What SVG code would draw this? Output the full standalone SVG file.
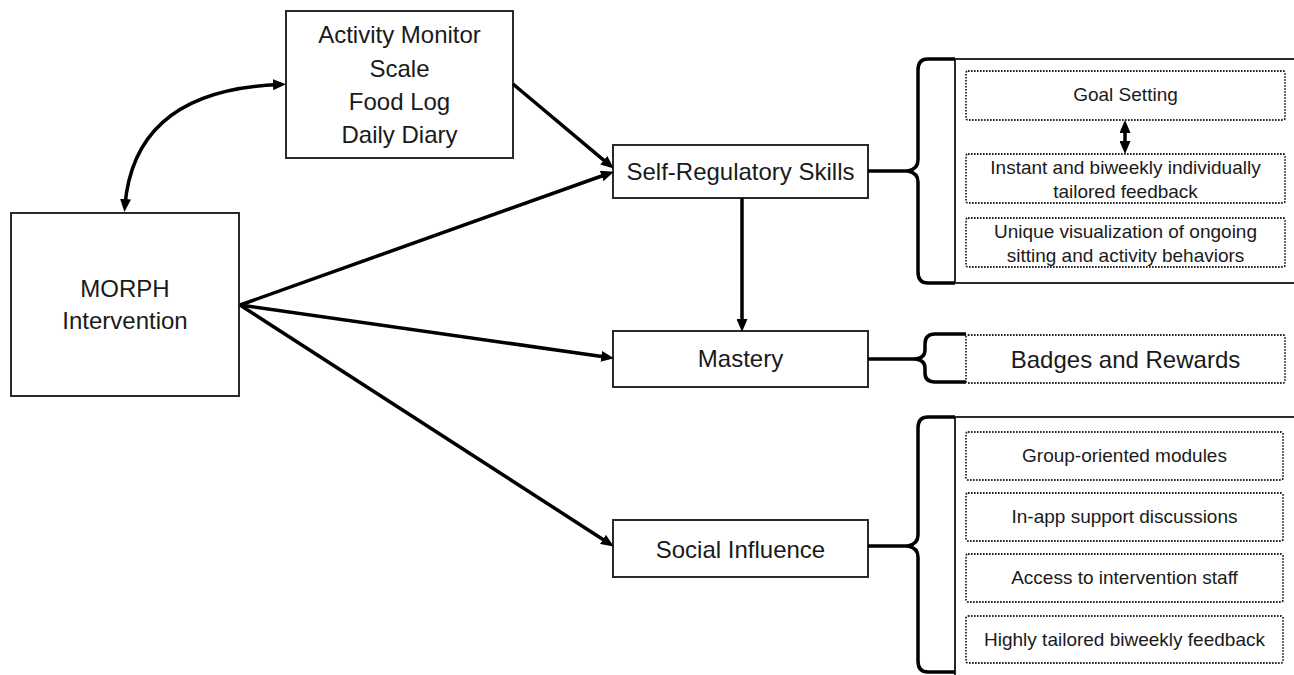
<svg xmlns="http://www.w3.org/2000/svg" width="1294" height="675" viewBox="0 0 1294 675">
<style>
.box{fill:#fff;stroke:#2a2a2a;stroke-width:2}
.panel{fill:#fff;stroke:#2a2a2a;stroke-width:2}
.dot{fill:none;stroke:#222;stroke-width:1.8;stroke-dasharray:1.6 1.4}
.t{font-family:"Liberation Sans",Arial,sans-serif;fill:#1a1a1a;text-anchor:middle}
.big{font-size:24px}
.sm{font-size:19px}
.conn{fill:none;stroke:#000;stroke-width:3.5}
.brace{fill:none;stroke:#000;stroke-width:3.5;stroke-linejoin:round}
</style>
<defs>
<marker id="ah" viewBox="0 0 13 11" refX="6" refY="5.5" markerWidth="13" markerHeight="11" markerUnits="userSpaceOnUse" orient="auto-start-reverse">
<path d="M0,0 L13,5.5 L0,11 z" fill="#000"/>
</marker>
</defs>
<rect width="1294" height="675" fill="#fff"/>
<g id="activity">
<rect class="box" x="286" y="11" width="227" height="147"/>
<text class="t big" x="399.5" y="43">Activity Monitor</text>
<text class="t big" x="399.5" y="77">Scale</text>
<text class="t big" x="399.5" y="110">Food Log</text>
<text class="t big" x="399.5" y="143">Daily Diary</text>
</g>
<g id="morph">
<rect class="box" x="11" y="213" width="228" height="183"/>
<text class="t big" x="125" y="297">MORPH</text>
<text class="t big" x="125" y="329">Intervention</text>
</g>
<g id="selfreg">
<rect class="box" x="613" y="145" width="255" height="53"/>
<text class="t big" x="740.5" y="180">Self-Regulatory Skills</text>
</g>
<g id="mastery">
<rect class="box" x="613" y="331" width="255" height="56"/>
<text class="t big" x="740.5" y="367">Mastery</text>
</g>
<g id="social">
<rect class="box" x="613" y="520" width="255" height="57"/>
<text class="t big" x="740.5" y="558">Social Influence</text>
</g>
<g id="selfreg-panel">
<rect class="panel" x="955" y="59" width="340" height="224"/>
<rect class="dot" x="966" y="71" width="319" height="49" rx="2"/>
<text class="t sm" x="1125.5" y="101">Goal Setting</text>
<rect class="dot" x="966" y="154" width="319" height="49" rx="2"/>
<text class="t sm" x="1125.5" y="174">Instant and biweekly individually</text>
<text class="t sm" x="1125.5" y="198">tailored feedback</text>
<rect class="dot" x="966" y="218" width="319" height="49" rx="2"/>
<text class="t sm" x="1125.5" y="238">Unique visualization of ongoing</text>
<text class="t sm" x="1125.5" y="262">sitting and activity behaviors</text>
</g>
<g id="badges">
<rect class="dot" x="966" y="335" width="319" height="48" rx="2"/>
<text class="t big" x="1125.5" y="368">Badges and Rewards</text>
</g>
<g id="social-panel">
<rect class="panel" x="955" y="417" width="340" height="260"/>
<rect class="dot" x="966" y="432" width="317" height="48" rx="2"/>
<text class="t sm" x="1124.5" y="462">Group-oriented modules</text>
<rect class="dot" x="966" y="493" width="317" height="48" rx="2"/>
<text class="t sm" x="1124.5" y="523">In-app support discussions</text>
<rect class="dot" x="966" y="554" width="317" height="48" rx="2"/>
<text class="t sm" x="1124.5" y="584">Access to intervention staff</text>
<rect class="dot" x="966" y="616" width="317" height="47" rx="2"/>
<text class="t sm" x="1124.5" y="646">Highly tailored biweekly feedback</text>
</g>
<g id="connectors">
<path class="conn" d="M125,205 Q135,90 279,84.5" marker-start="url(#ah)" marker-end="url(#ah)"/>
<path class="conn" d="M513,84 L608.4,164.1" marker-end="url(#ah)"/>
<path class="conn" d="M240,305 L607.3,174" marker-end="url(#ah)"/>
<path class="conn" d="M240,305 L607.1,357.2" marker-end="url(#ah)"/>
<path class="conn" d="M240,305 L608,542.7" marker-end="url(#ah)"/>
<path class="conn" d="M742,198 L742,325" marker-end="url(#ah)"/>
<path class="conn" d="M1125,127 L1125,147" marker-start="url(#ah)" marker-end="url(#ah)"/>
<path class="brace" d="M868,171 L908,171"/>
<path class="brace" d="M868,359 L915,359"/>
<path class="brace" d="M868,546 L908,546"/>
<path class="brace" d="M955,59 L928,59 Q918,59 918,70 L918,160 Q918,169 908,171 Q918,173 918,182 L918,272 Q918,283 928,283 L955,283"/>
<path class="brace" d="M966,334 L935,334 Q925,334 925,344 L925,350 Q925,358 915,359 Q925,360 925,368 L925,373 Q925,382 935,382 L966,382"/>
<path class="brace" d="M955,417 L928,417 Q918,417 918,428 L918,535 Q918,544 908,546 Q918,548 918,557 L918,661 Q918,672 928,672 L955,672"/>
</g>
</svg>
